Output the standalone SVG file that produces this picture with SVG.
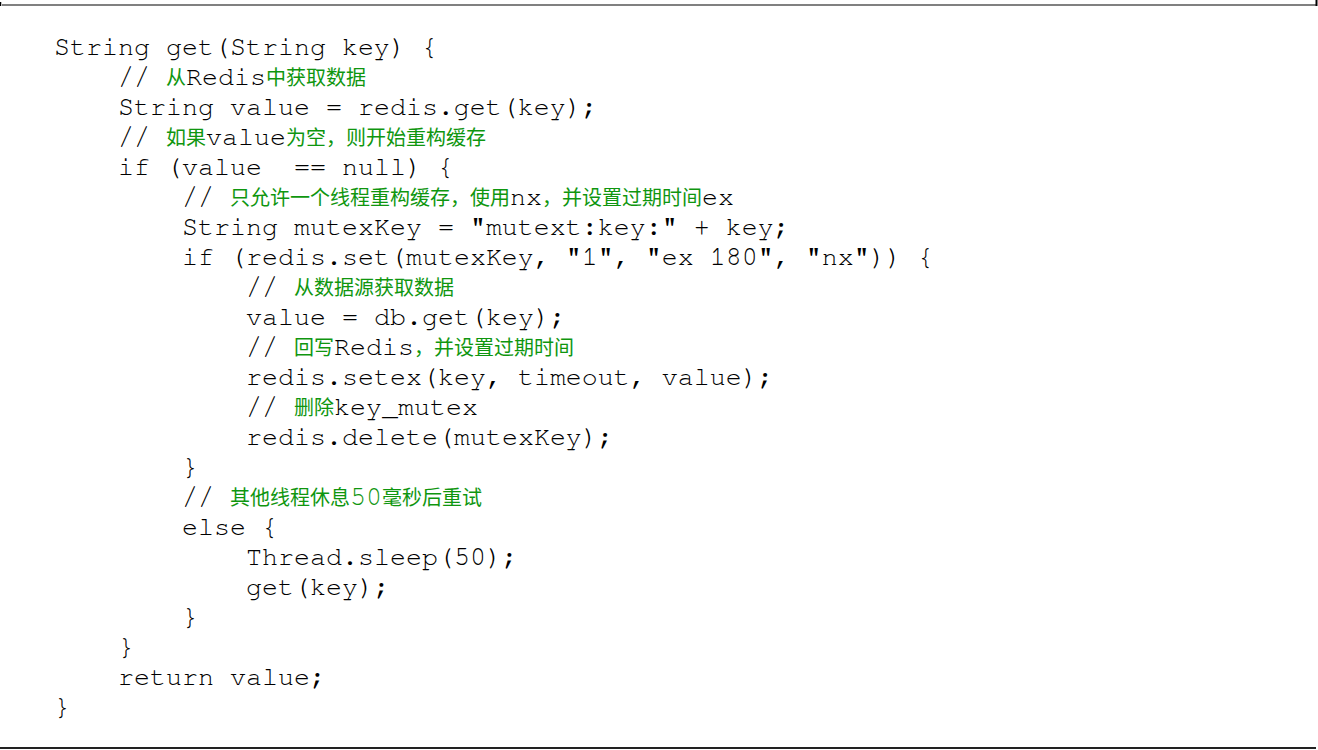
<svg xmlns="http://www.w3.org/2000/svg" width="1318" height="750" viewBox="0 0 1318 750">
<style>
.c text{font-family:"Nimbus Mono PS","Nimbus Mono L","FreeMono","Courier 10 Pitch","Liberation Mono","Courier New",monospace;font-size:26.67px;fill:#000;white-space:pre}
.z{font-family:"Noto Sans CJK SC","Noto Sans",sans-serif;font-size:20px;fill:#0f960f}
.g{fill:#0f960f}
</style>
<rect x="0" y="0" width="1318" height="750" fill="#fff"/>
<g id="frame">
<line x1="2" y1="5" x2="1316" y2="5" stroke="#808080" stroke-width="2"/>
<line x1="1316.5" y1="0" x2="1316.5" y2="6" stroke="#000" stroke-width="2"/>
<line x1="0.5" y1="2" x2="0.5" y2="6" stroke="#000" stroke-width="1.5"/>
<line x1="0" y1="748" x2="1316" y2="748" stroke="#222" stroke-width="2"/>
</g>
<g id="code" class="c">
<text xml:space="preserve" x="54" y="55">String get(String key) {</text>
<text xml:space="preserve" x="118" y="85">// <tspan class="z">从</tspan>Redis<tspan class="z">中获取数据</tspan></text>
<text xml:space="preserve" x="118" y="115">String value = redis.get(key);</text>
<text xml:space="preserve" x="118" y="145">// <tspan class="z">如果</tspan>value<tspan class="z">为空，则开始重构缓存</tspan></text>
<text xml:space="preserve" x="118" y="175">if (value  == null) {</text>
<text xml:space="preserve" x="182" y="205">// <tspan class="z">只允许一个线程重构缓存，使用</tspan>nx<tspan class="z">，并设置过期时间</tspan>ex</text>
<text xml:space="preserve" x="182" y="235">String mutexKey = "mutext:key:" + key;</text>
<text xml:space="preserve" x="182" y="265">if (redis.set(mutexKey, "1", "ex 180", "nx")) {</text>
<text xml:space="preserve" x="246" y="295">// <tspan class="z">从数据源获取数据</tspan></text>
<text xml:space="preserve" x="246" y="325">value = db.get(key);</text>
<text xml:space="preserve" x="246" y="355">// <tspan class="z">回写</tspan>Redis<tspan class="z">，并设置过期时间</tspan></text>
<text xml:space="preserve" x="246" y="385">redis.setex(key, timeout, value);</text>
<text xml:space="preserve" x="246" y="415">// <tspan class="z">删除</tspan>key_mutex</text>
<text xml:space="preserve" x="246" y="445">redis.delete(mutexKey);</text>
<text xml:space="preserve" x="182" y="475">}</text>
<text xml:space="preserve" x="182" y="505">// <tspan class="z">其他线程休息</tspan><tspan class="g">50</tspan><tspan class="z">毫秒后重试</tspan></text>
<text xml:space="preserve" x="182" y="535">else {</text>
<text xml:space="preserve" x="246" y="565">Thread.sleep(50);</text>
<text xml:space="preserve" x="246" y="595">get(key);</text>
<text xml:space="preserve" x="182" y="625">}</text>
<text xml:space="preserve" x="118" y="655">}</text>
<text xml:space="preserve" x="118" y="685">return value;</text>
<text xml:space="preserve" x="54" y="715">}</text>
</g>
</svg>
